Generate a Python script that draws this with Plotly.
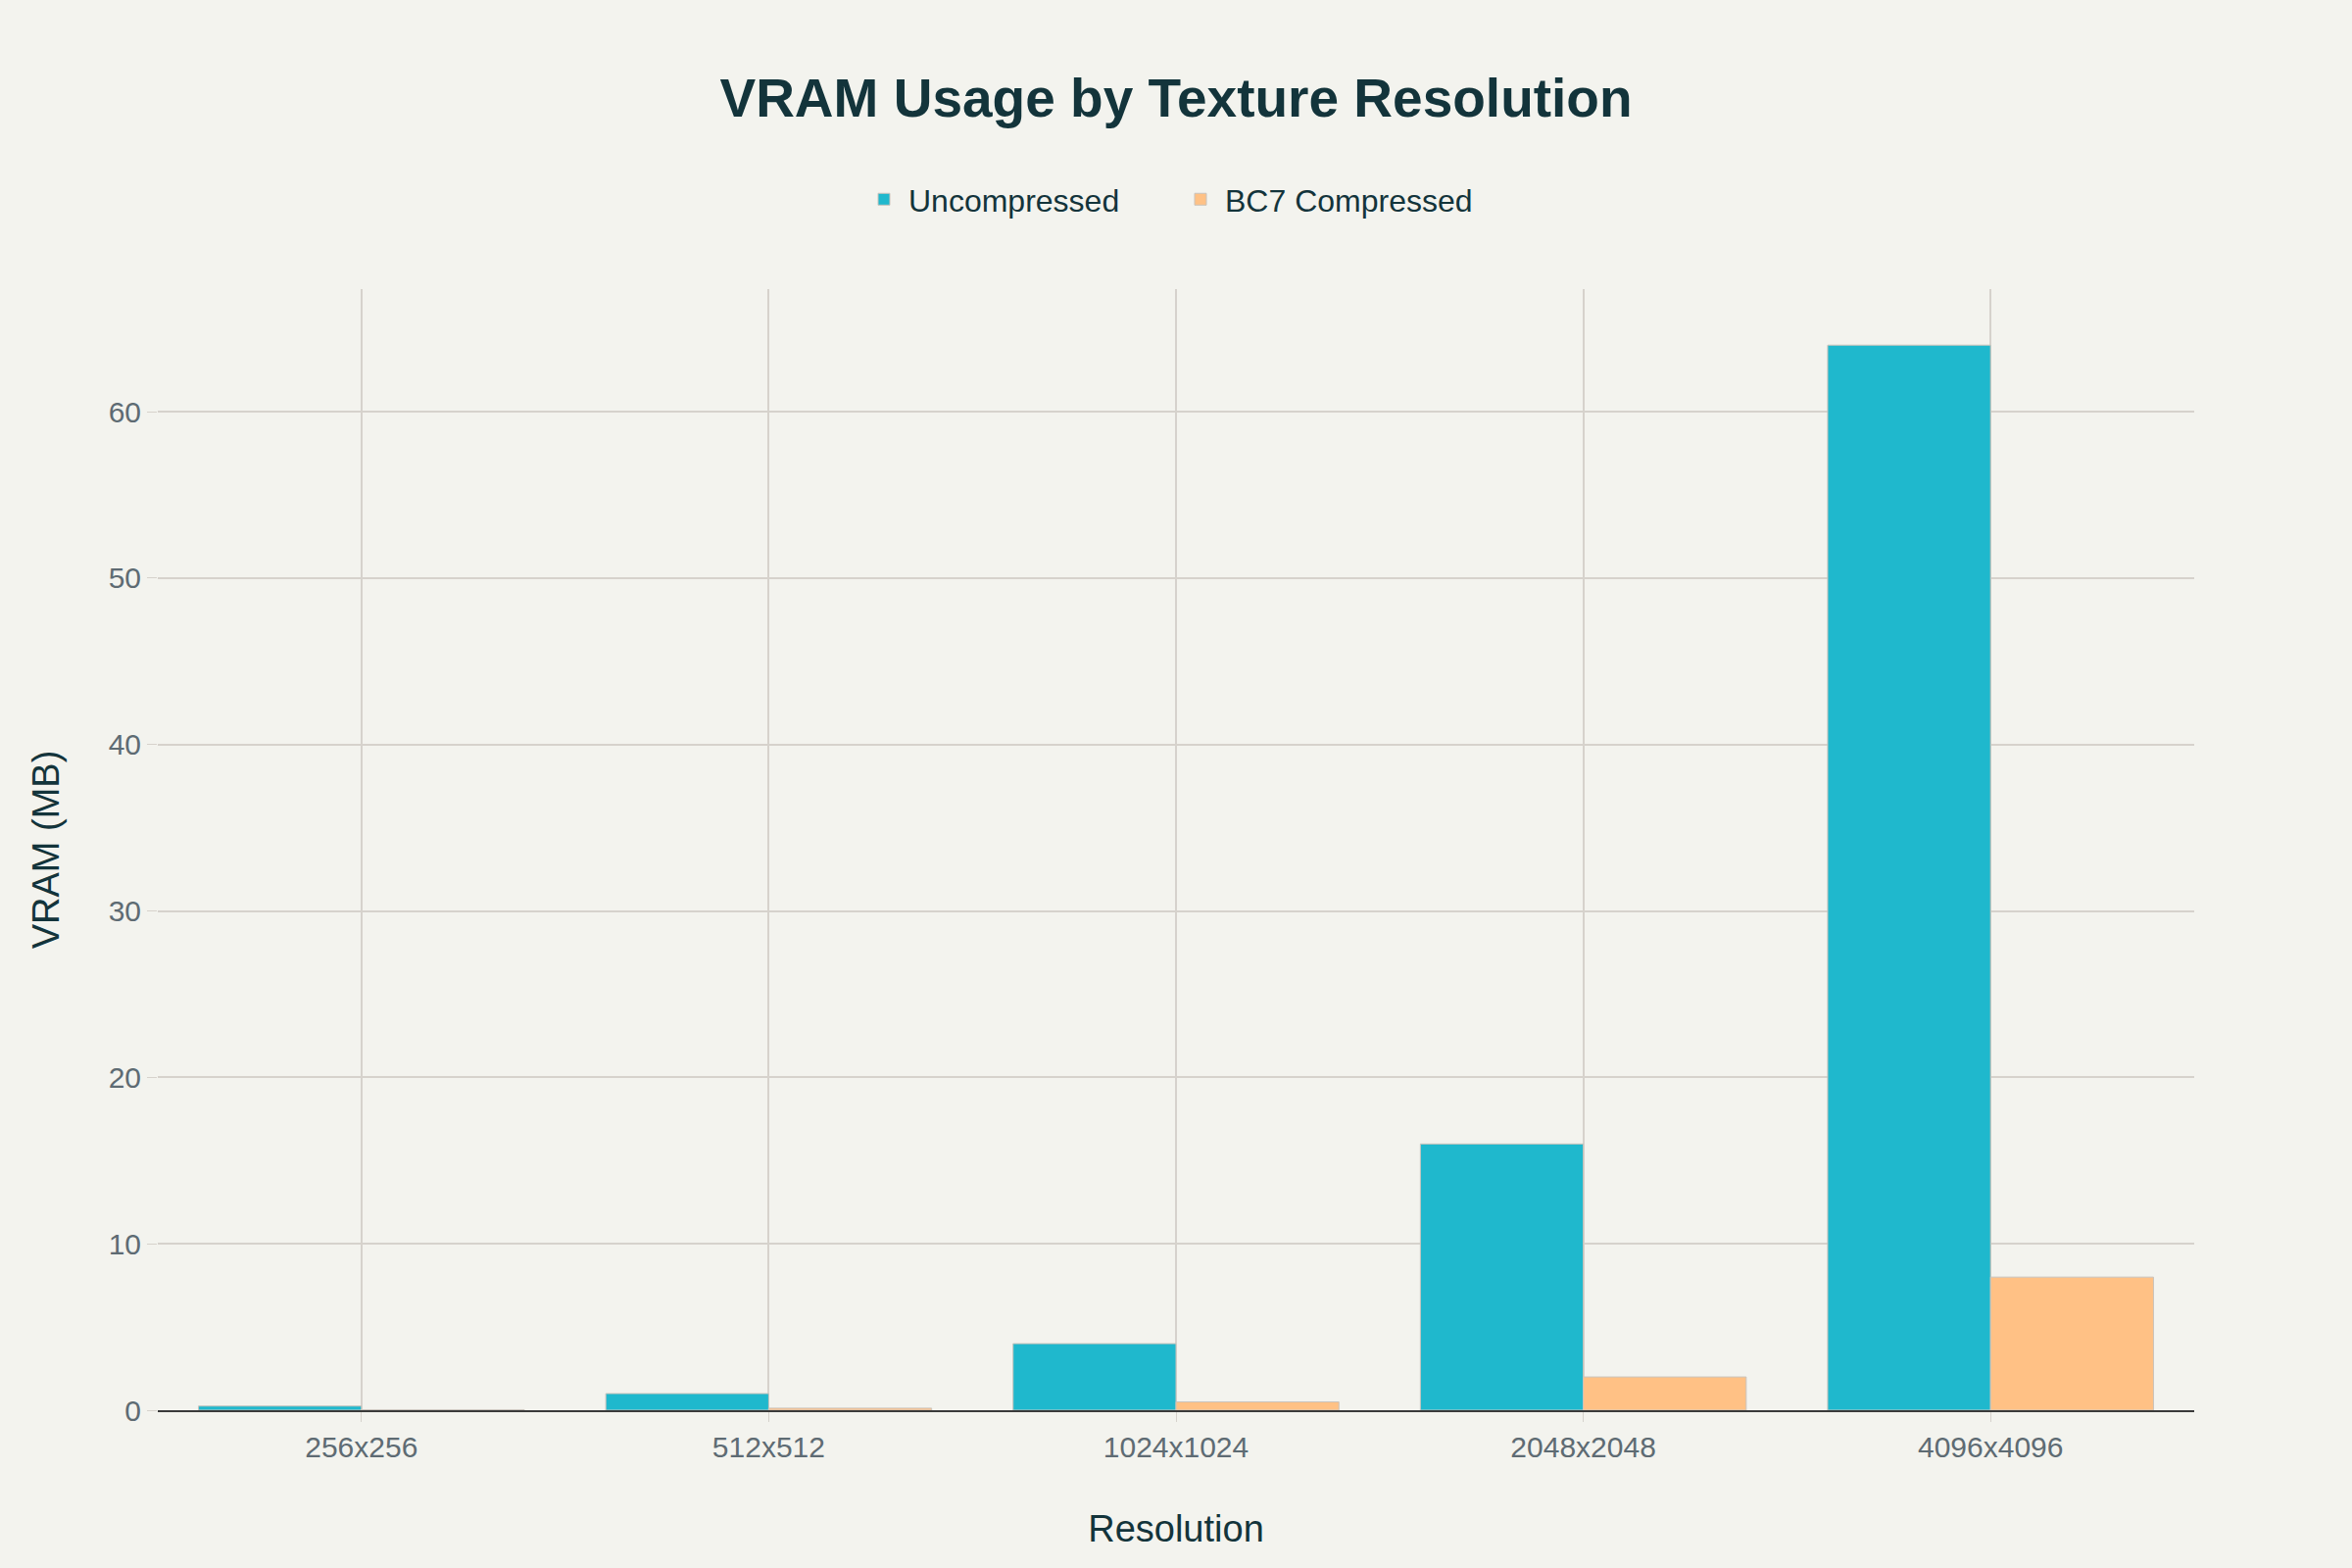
import plotly.graph_objects as go

resolutions = ["256x256", "512x512", "1024x1024", "2048x2048", "4096x4096"]
uncompressed_mb = [0.25, 1, 4, 16, 64]
bc7_mb = [0.03125, 0.125, 0.5, 2, 8]

FONT = "Liberation Sans"
TEXT_DARK = "#13343B"
TICK_GRAY = "#5E6B73"
GRID = "#D6D2CC"
BG = "#F3F3EE"

fig = go.Figure()
fig.add_trace(go.Bar(
    name="Uncompressed", x=resolutions, y=uncompressed_mb,
    marker=dict(color="#1FB8CD", line=dict(color="#C9C3BC", width=1)),
))
fig.add_trace(go.Bar(
    name="BC7 Compressed", x=resolutions, y=bc7_mb,
    marker=dict(color="#FFC185", line=dict(color="#C9C3BC", width=1)),
))

fig.update_layout(
    width=2400, height=1600,
    paper_bgcolor=BG, plot_bgcolor=BG,
    font=dict(family=FONT, color=TEXT_DARK, size=28),
    barmode="group", bargap=0.2, bargroupgap=0,
    margin=dict(l=161, r=161, t=295, b=161),
    title=dict(text="<b>VRAM Usage by Texture Resolution</b>", x=0.5, xanchor="center",
               y=1 - 100 / 1600, yanchor="middle", yref="container",
               font=dict(size=55, color=TEXT_DARK, family=FONT)),
    legend=dict(orientation="h", x=0.5, xanchor="center", y=1.08, yanchor="middle",
                font=dict(size=32, color=TEXT_DARK), bgcolor="rgba(0,0,0,0)",
                entrywidth=268, entrywidthmode="pixels", itemwidth=40),
    xaxis=dict(
        title=dict(text="Resolution", font=dict(size=38, color=TEXT_DARK), standoff=54),
        showgrid=True, gridcolor=GRID, gridwidth=1.5,
        tickfont=dict(size=30, color=TICK_GRAY),
        ticks="outside", ticklen=10, tickcolor=GRID,
        showline=True, linecolor="#3A3A3A", linewidth=2,
    ),
    yaxis=dict(
        title=dict(text="VRAM (MB)", font=dict(size=38, color=TEXT_DARK), standoff=38),
        showgrid=True, gridcolor=GRID, gridwidth=1.5,
        tickfont=dict(size=30, color=TICK_GRAY),
        ticks="outside", ticklen=10, tickcolor=GRID,
        zeroline=False,
    ),
)

fig.write_html("out.html", config={"displayModeBar": False},
               post_script="document.body.style.margin='0';document.body.style.background='#F3F3EE';")
